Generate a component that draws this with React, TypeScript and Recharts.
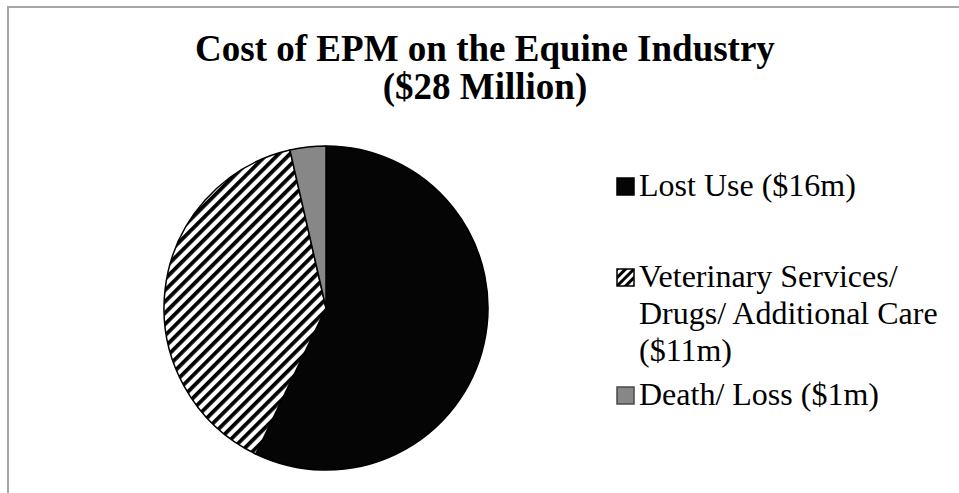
import React from "react";
import { PieChart, Pie, Cell, Legend } from "recharts";

const categories = [
  "Lost Use ($16m)",
  "Veterinary Services/ Drugs/ Additional Care ($11m)",
  "Death/ Loss ($1m)",
];
const values = [16, 11, 1];
const titleLines = ["Cost of EPM on the Equine Industry", "($28 Million)"];

const fills = ["#050505", "url(#hatch)", "#878787"];
const markerFills = ["#050505", "url(#hatchSmall)", "#878787"];
const markerBorders = ["#000", "#000", "#4a4a4a"];
const legendGaps = [0, 54, 7];

const data = categories.map((name, i) => ({ name, value: values[i] }));

const FONT = '"Liberation Serif", "Times New Roman", serif';

function LegendContent() {
  return (
    <div style={{ fontFamily: FONT, fontSize: 32, lineHeight: "37px", color: "#000" }}>
      {categories.map((c, i) => (
        <div key={c} style={{ display: "flex", alignItems: "flex-start", marginTop: legendGaps[i] }}>
          <svg width={20} height={20} style={{ marginTop: 10, flex: "0 0 auto" }}>
            <defs>
              <pattern id={"hatchSmall"} width="6" height="6" patternUnits="userSpaceOnUse" patternTransform="rotate(45)">
                <rect width="6" height="6" fill="#fff" />
                <rect width="3" height="6" fill="#000" />
              </pattern>
            </defs>
            <rect x={1} y={1} width={17} height={17} fill={markerFills[i]} stroke={markerBorders[i]} strokeWidth={1.5} />
          </svg>
          <div style={{ width: 312, marginLeft: 3 }}>{c}</div>
        </div>
      ))}
    </div>
  );
}

export default function App() {
  return (
    <div style={{ position: "absolute", left: 0, top: 0, width: 959, height: 493, background: "#fff", overflow: "hidden" }}>
      <div
        style={{
          position: "absolute",
          left: 7,
          top: 6,
          width: 952,
          height: 487,
          borderLeft: "2px solid #a6a6a6",
          borderTop: "2px solid #a6a6a6",
        }}
      />
      <div
        style={{
          position: "absolute",
          left: 0,
          top: 30,
          width: 970,
          textAlign: "center",
          fontFamily: FONT,
          fontWeight: "bold",
          fontSize: 37,
          lineHeight: "38px",
          color: "#000",
        }}
      >
        {titleLines.map((t) => (
          <div key={t}>{t}</div>
        ))}
      </div>
      <div style={{ position: "absolute", left: 0, top: 0 }}>
        <PieChart width={959} height={493} margin={{ top: 0, right: 0, bottom: 0, left: 0 }}>
          <defs>
            <pattern id="hatch" width="8" height="8" patternUnits="userSpaceOnUse" patternTransform="rotate(45)">
              <rect width="8" height="8" fill="#fff" />
              <rect width="3.8" height="8" fill="#000" />
            </pattern>
          </defs>
          <Pie
            data={data}
            dataKey="value"
            nameKey="name"
            cx={326}
            cy={308}
            outerRadius={162}
            startAngle={90}
            endAngle={-270}
            stroke="#000"
            strokeWidth={1.5}
            isAnimationActive={false}
            legendType="square"
          >
            {data.map((d, i) => (
              <Cell key={d.name} fill={fills[i]} />
            ))}
          </Pie>
          <Legend
            content={<LegendContent />}
            wrapperStyle={{ position: "absolute", left: 616, top: 167, width: 340 }}
          />
        </PieChart>
      </div>
    </div>
  );
}
